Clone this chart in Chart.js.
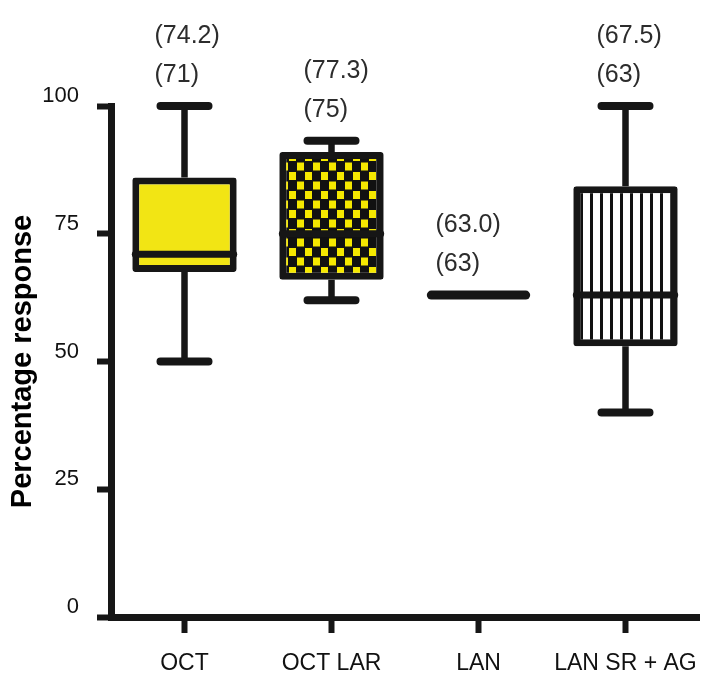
<!DOCTYPE html>
<html><head><meta charset="utf-8">
<script src="https://cdn.jsdelivr.net/npm/chart.js@4"></script>
<style>html,body{margin:0;padding:0;background:#fff}</style>
</head><body><canvas id="c" width="704" height="674"></canvas>
<script>
const categories = ['OCT', 'OCT LAR', 'LAN', 'LAN SR + AG'];
const whiskerMin = [50, 62, 63, 40];
const q1 = [67.5, 66, 63, 53];
const median = [71, 75, 63, 63];
const q3 = [86, 91, 63, 84.3];
const whiskerMax = [100, 93.2, 63, 100];
const meanLabels = ['(74.2)', '(77.3)', '(63.0)', '(67.5)'];
const medianLabels = ['(71)', '(75)', '(63)', '(63)'];
const yTicks = [0, 25, 50, 75, 100];

const INK = '#161616';
const YELLOW = '#f2e514';

function makePattern(w, h, draw) {
  const c = document.createElement('canvas');
  c.width = w; c.height = h;
  const g = c.getContext('2d');
  draw(g);
  return document.getElementById('c').getContext('2d').createPattern(c, 'repeat');
}
const checker = makePattern(16, 19, g => {
  g.fillStyle = '#111'; g.fillRect(0, 0, 16, 19);
  g.fillStyle = '#f5e800';
  g.fillRect(1, 1, 7, 8);
  g.fillRect(9, 10.5, 7, 8);
});
const stripes = makePattern(10, 10, g => {
  g.fillStyle = '#fff'; g.fillRect(0, 0, 10, 10);
  g.fillStyle = '#111'; g.fillRect(0, 0, 3, 10);
});

const labelDx = [-30, -28, -43, -29];

const boxPlugin = {
  id: 'boxExtras',
  afterDatasetsDraw(chart) {
    const ctx = chart.ctx, y = chart.scales.y;
    const meta = chart.getDatasetMeta(0);
    ctx.save();
    ctx.strokeStyle = INK;
    categories.forEach((c, i) => {
      const bar = meta.data[i];
      const cx = bar.x, half = bar.width / 2;
      const capHalf = 28;
      const flat = q1[i] === q3[i];
      ctx.lineWidth = 6.5; ctx.lineCap = 'butt';
      ctx.beginPath();
      ctx.moveTo(cx, y.getPixelForValue(q3[i])); ctx.lineTo(cx, y.getPixelForValue(whiskerMax[i]));
      ctx.moveTo(cx, y.getPixelForValue(q1[i])); ctx.lineTo(cx, y.getPixelForValue(whiskerMin[i]));
      ctx.stroke();
      ctx.lineWidth = 8; ctx.lineCap = 'round';
      ctx.beginPath();
      ctx.moveTo(cx - capHalf + 4, y.getPixelForValue(whiskerMax[i])); ctx.lineTo(cx + capHalf - 4, y.getPixelForValue(whiskerMax[i]));
      ctx.moveTo(cx - capHalf + 4, y.getPixelForValue(whiskerMin[i])); ctx.lineTo(cx + capHalf - 4, y.getPixelForValue(whiskerMin[i]));
      ctx.stroke();
      ctx.lineWidth = flat ? 9 : 7;
      const inset = flat ? 5 : 3;
      ctx.beginPath();
      ctx.moveTo(cx - half + inset, y.getPixelForValue(median[i])); ctx.lineTo(cx + half - inset, y.getPixelForValue(median[i]));
      ctx.stroke();
      ctx.fillStyle = '#2c2c2c';
      ctx.font = '25px "Liberation Sans", Arial, sans-serif';
      ctx.textAlign = 'left'; ctx.textBaseline = 'middle';
      const top = y.getPixelForValue(whiskerMax[i]);
      ctx.fillText(medianLabels[i], cx + labelDx[i], top - 31);
      ctx.fillText(meanLabels[i], cx + labelDx[i], top - 70);
    });
    ctx.restore();
  }
};

new Chart(document.getElementById('c'), {
  type: 'bar',
  data: {
    labels: categories,
    datasets: [{
      data: categories.map((_, i) => [q1[i], q3[i]]),
      backgroundColor: [YELLOW, checker, 'rgba(0,0,0,0)', stripes],
      borderColor: INK, borderWidth: 7, borderSkipped: false, borderRadius: 3,
      barPercentage: 0.71, categoryPercentage: 1
    }]
  },
  options: {
    responsive: false, animation: false,
    layout: { padding: { top: 106, right: 5, left: 0, bottom: 0 } },
    plugins: { legend: { display: false }, tooltip: { enabled: false } },
    scales: {
      x: {
        offset: true,
        grid: { display: true, drawOnChartArea: false, drawTicks: true, tickLength: 16, tickWidth: 6, tickColor: INK, offset: false },
        border: { display: true, color: INK, width: 7 },
        ticks: { color: '#111', font: { family: '"Liberation Sans", Arial', size: 23 }, padding: 17, maxRotation: 0 },
        afterFit(s) { s.height = 57; s.paddingLeft = 0; s.paddingRight = 0; }
      },
      y: {
        min: 0, max: 100,
        afterBuildTicks(s) { s.ticks = yTicks.map(v => ({ value: v })); },
        grid: { drawOnChartArea: false, tickLength: 14, tickWidth: 6, tickColor: INK },
        border: { display: true, color: INK, width: 7 },
        ticks: { color: '#111', font: { family: '"Liberation Sans", Arial', size: 22 }, padding: 18, labelOffset: -10 },
        title: { display: true, text: 'Percentage response', color: '#000', font: { family: '"Liberation Sans", Arial', size: 29, weight: 'bold' }, padding: { top: 6, bottom: 0 } },
        afterFit(s) { s.width = 111; s.paddingTop = 0; s.paddingBottom = 0; }
      }
    }
  },
  plugins: [boxPlugin]
});
</script></body></html>
